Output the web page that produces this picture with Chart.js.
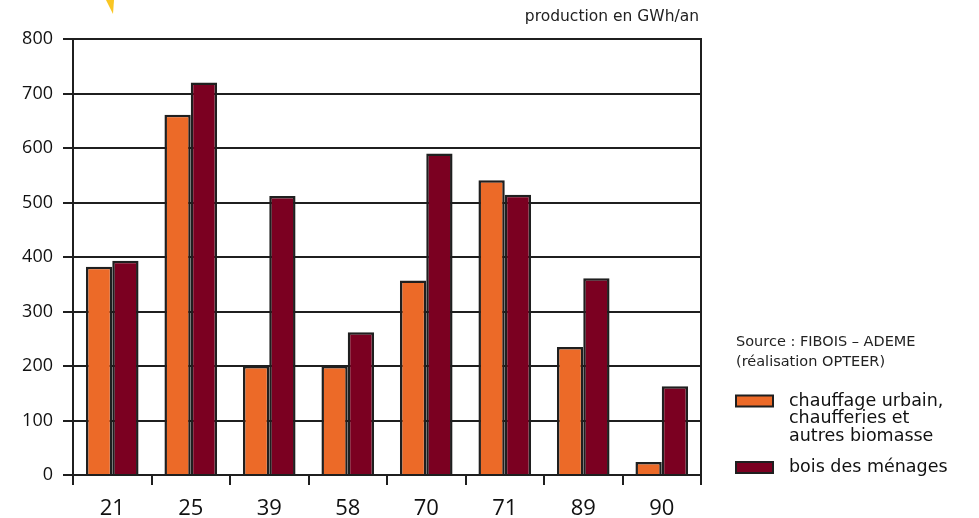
<!DOCTYPE html>
<html lang="fr">
<head>
<meta charset="utf-8">
<script src="https://cdn.jsdelivr.net/npm/chart.js@4/dist/chart.umd.min.js"></script>
<style>
  html, body { margin: 0; padding: 0; background: #ffffff; }
  #wrap { width: 979px; height: 518px; }
</style>
</head>
<body>
<div id="wrap"><canvas id="c" width="979" height="518"></canvas></div>
<script>
// Production de bois énergie par département (GWh/an)
const departements = ['21', '25', '39', '58', '70', '71', '89', '90'];
const chauffageUrbain = [382, 661, 200, 200, 357, 541, 235, 24];
const boisMenages = [393, 720, 512, 262, 590, 514, 361, 163];
const yTicks = [0, 100, 200, 300, 400, 500, 600, 700, 800];

const legendItems = [
  { lines: ['chauffage urbain,', 'chaufferies et', 'autres biomasse'], color: '#EC6A28' },
  { lines: ['bois des ménages'], color: '#7B0021' }
];
const uniteLabel = 'production en GWh/an';
const sourceLines = ['Source : FIBOIS – ADEME', '(réalisation OPTEER)'];

const FONT = '"Open Sans", "Noto Sans", sans-serif';
const TEXT_FONT = '"DejaVu Sans", "Open Sans", sans-serif';
const INK = '#1f1f1f';

// Cadre droit, mention d'unité, source et légende dessinés autour de la zone de tracé
const decor = {
  id: 'decor',
  afterDraw(chart) {
    const ctx = chart.ctx;
    const a = chart.chartArea;
    ctx.save();

    // bord droit du cadre
    ctx.strokeStyle = INK;
    ctx.lineWidth = 2;
    ctx.beginPath();
    ctx.moveTo(a.right, a.top - 1);
    ctx.lineTo(a.right, a.bottom + 10);
    ctx.stroke();

    // petit éclat jaune du bandeau de titre
    ctx.fillStyle = '#F9C623';
    ctx.beginPath();
    ctx.moveTo(106, 0);
    ctx.lineTo(114, 0);
    ctx.lineTo(113, 14);
    ctx.closePath();
    ctx.fill();

    // unité
    ctx.fillStyle = '#222';
    ctx.font = '15.5px ' + TEXT_FONT;
    ctx.textAlign = 'right';
    ctx.textBaseline = 'middle';
    ctx.fillText(uniteLabel, a.right - 2, 17);

    // source
    ctx.textAlign = 'left';
    ctx.font = '14.5px ' + TEXT_FONT;
    sourceLines.forEach((t, i) => ctx.fillText(t, 736, 342 + i * 20));

    // légende
    const lx = 736, bw = 37, bh = 11, tx = 789, lh = 17.5;
    let y = 401;
    legendItems.forEach((item) => {
      ctx.fillStyle = item.color;
      ctx.fillRect(lx, y - bh / 2, bw, bh);
      ctx.strokeStyle = INK;
      ctx.lineWidth = 2;
      ctx.strokeRect(lx, y - bh / 2, bw, bh);
      ctx.fillStyle = '#111';
      ctx.font = '17.5px ' + TEXT_FONT;
      item.lines.forEach((t, i) => ctx.fillText(t, tx, y + i * lh));
      y += item.lines.length * lh + 14;
    });
    ctx.restore();
  }
};

new Chart(document.getElementById('c'), {
  type: 'bar',
  data: {
    labels: departements,
    datasets: [
      {
        label: legendItems[0].lines.join(' '),
        data: chauffageUrbain,
        backgroundColor: legendItems[0].color,
        borderColor: INK,
        borderWidth: 2.5,
        categoryPercentage: 0.67,
        barPercentage: 1.0
      },
      {
        label: legendItems[1].lines.join(' '),
        data: boisMenages,
        backgroundColor: legendItems[1].color,
        borderColor: INK,
        borderWidth: 2.5,
        categoryPercentage: 0.67,
        barPercentage: 1.0
      }
    ]
  },
  options: {
    responsive: false,
    animation: false,
    devicePixelRatio: 1,
    layout: { padding: { top: 39, right: 278, left: 0, bottom: 0 } },
    plugins: {
      legend: { display: false },
      tooltip: { enabled: false },
      title: { display: false }
    },
    scales: {
      x: {
        offset: true,
        grid: {
          offset: true,
          drawOnChartArea: false,
          drawTicks: true,
          tickLength: 10,
          color: INK,
          lineWidth: 2
        },
        border: { display: true, color: INK, width: 2 },
        ticks: {
          color: '#111',
          font: { family: FONT, size: 22, lineHeight: 1.2 },
          padding: 11,
          maxRotation: 0
        },
        afterFit(scale) { scale.height = 43; }
      },
      y: {
        min: 0,
        max: 800,
        afterBuildTicks(scale) { scale.ticks = yTicks.map(v => ({ value: v })); },
        grid: {
          color: INK,
          lineWidth: 2,
          drawTicks: true,
          tickLength: 10
        },
        border: { display: true, color: INK, width: 2 },
        ticks: {
          color: '#111',
          font: { family: FONT, size: 18 },
          padding: 10
        },
        afterFit(scale) { scale.width = 73; }
      }
    }
  },
  plugins: [decor]
});
</script>
</body>
</html>
